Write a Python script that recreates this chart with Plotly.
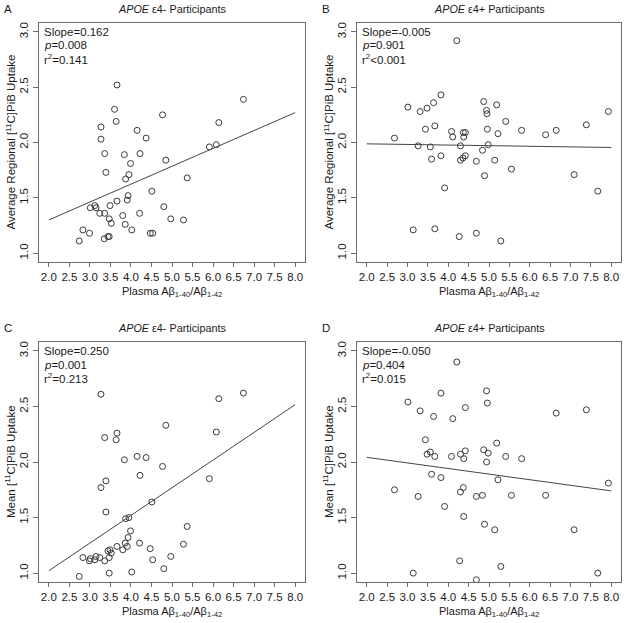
import plotly.graph_objects as go

W, H = 629, 623

# ---------------- data ----------------
x_ticks = [2.0, 2.5, 3.0, 3.5, 4.0, 4.5, 5.0, 5.5, 6.0, 6.5, 7.0, 7.5, 8.0]
x_tick_labels = ["2.0", "2.5", "3.0", "3.5", "4.0", "4.5", "5.0", "5.5", "6.0", "6.5", "7.0", "7.5", "8.0"]
y_ticks = [1.0, 1.5, 2.0, 2.5, 3.0]
y_tick_labels = ["1.0", "1.5", "2.0", "2.5", "3.0"]

# Panel A: APOE e4- , average regional PiB
a_x = [3.66, 3.60, 3.64, 3.27, 3.27, 3.36, 3.39, 4.15, 4.37, 3.84, 4.22, 3.99, 3.95, 3.87,
       4.77, 4.85, 5.37, 5.91, 6.08, 6.14, 6.74, 4.51, 3.93, 3.91, 3.66, 3.49, 3.12, 3.15,
       3.01, 3.24, 3.36, 4.21, 3.80, 3.47, 3.52, 3.86, 4.80, 4.97, 5.28, 2.83, 2.99, 2.74,
       4.02, 4.47, 4.53, 3.35, 3.44, 3.47]
a_y = [2.52, 2.30, 2.19, 2.14, 2.03, 1.90, 1.73, 2.11, 2.04, 1.89, 1.90, 1.81, 1.71, 1.67,
       2.25, 1.84, 1.68, 1.96, 1.98, 2.18, 2.39, 1.56, 1.52, 1.48, 1.47, 1.43, 1.43, 1.41,
       1.41, 1.36, 1.36, 1.36, 1.34, 1.31, 1.27, 1.26, 1.42, 1.31, 1.30, 1.21, 1.18, 1.11,
       1.21, 1.18, 1.18, 1.13, 1.15, 1.15]
a_fit_x = [2.0, 8.0]
a_fit_y = [1.30, 2.27]

# Panel B: APOE e4+ , average regional PiB
b_x = [4.21, 3.82, 3.01, 3.31, 3.48, 3.64, 3.44, 3.67, 2.68, 4.08, 4.11, 4.38, 4.37, 4.42,
       3.26, 3.56, 4.30, 3.59, 3.82, 4.42, 4.36, 4.30, 4.84, 4.69, 4.89, 4.87, 4.94, 4.95,
       4.96, 4.98, 5.19, 5.41, 5.22, 5.14, 5.55, 5.80, 6.39, 6.65, 7.39, 7.09, 7.67, 7.93,
       3.91, 3.14, 3.67, 4.27, 4.69, 5.29]
b_y = [2.92, 2.43, 2.32, 2.28, 2.31, 2.36, 2.12, 2.15, 2.04, 2.10, 2.05, 2.05, 2.09, 2.09,
       1.97, 1.96, 1.97, 1.85, 1.88, 1.88, 1.86, 1.84, 1.93, 1.83, 1.70, 2.37, 2.29, 2.26,
       2.12, 1.98, 2.34, 2.19, 2.08, 1.84, 1.76, 2.11, 2.07, 2.11, 2.16, 1.71, 1.56, 2.28,
       1.59, 1.21, 1.22, 1.15, 1.18, 1.11]
b_fit_x = [2.0, 8.0]
b_fit_y = [1.988, 1.955]

# Panel C: APOE e4- , mean PiB
c_x = [3.27, 3.36, 3.66, 3.64, 3.27, 3.39, 3.39, 3.84, 4.15, 4.37, 4.22, 4.77, 4.85, 4.51,
       5.91, 6.08, 6.14, 6.74, 5.37, 5.28, 3.87, 3.95, 3.99, 3.93, 3.86, 3.91, 3.66, 3.80,
       4.21, 4.47, 4.53, 4.97, 4.80, 4.02, 3.47, 2.74, 2.83, 3.01, 2.99, 3.15, 3.12, 3.24,
       3.36, 3.44, 3.49, 3.52, 3.47]
c_y = [2.61, 2.22, 2.26, 2.20, 1.77, 1.83, 1.55, 2.02, 2.05, 2.04, 1.88, 1.96, 2.33, 1.64,
       1.85, 2.27, 2.57, 2.62, 1.42, 1.26, 1.49, 1.50, 1.38, 1.32, 1.27, 1.24, 1.24, 1.21,
       1.27, 1.22, 1.12, 1.15, 1.04, 1.01, 1.00, 0.97, 1.14, 1.13, 1.11, 1.15, 1.12, 1.14,
       1.11, 1.20, 1.21, 1.18, 1.14]
c_fit_x = [2.0, 8.0]
c_fit_y = [1.021, 2.516]

# Panel D: APOE e4+ , mean PiB
d_x = [4.21, 3.82, 4.94, 3.01, 4.96, 3.31, 4.42, 3.64, 4.11, 6.65, 7.39, 3.44, 5.19, 3.56,
       3.48, 3.67, 4.08, 4.30, 4.42, 4.38, 4.87, 4.98, 4.94, 5.41, 5.80, 3.59, 3.82, 5.22,
       7.93, 2.68, 3.26, 4.30, 4.37, 4.69, 4.84, 5.55, 6.39, 3.91, 4.38, 4.89, 5.14, 7.09,
       4.28, 5.29, 3.14, 7.67, 4.69]
d_y = [2.90, 2.62, 2.64, 2.54, 2.53, 2.46, 2.49, 2.41, 2.39, 2.44, 2.47, 2.20, 2.17, 2.09,
       2.07, 2.05, 2.05, 2.07, 2.10, 2.03, 2.11, 2.08, 2.00, 2.05, 2.03, 1.89, 1.86, 1.84,
       1.81, 1.75, 1.69, 1.73, 1.77, 1.69, 1.70, 1.70, 1.70, 1.60, 1.51, 1.44, 1.39, 1.39,
       1.11, 1.06, 1.00, 1.00, 0.94]
d_fit_x = [2.0, 8.0]
d_fit_y = [2.042, 1.740]

letters = ["A", "B", "C", "D"]
titles = ["<i>APOE</i> ε4- Participants", "<i>APOE</i> ε4+ Participants",
          "<i>APOE</i> ε4- Participants", "<i>APOE</i> ε4+ Participants"]
y_titles = ["Average Regional [<sup>11</sup>C]PiB Uptake", "Average Regional [<sup>11</sup>C]PiB Uptake",
            "Mean [<sup>11</sup>C]PiB Uptake", "Mean [<sup>11</sup>C]PiB Uptake"]
x_title = "Plasma Aβ<sub>1-40</sub>/Aβ<sub>1-42</sub>"
stats = [["Slope=0.162", "<i>p</i>=0.008", "r<sup>2</sup>=0.141"],
         ["Slope=-0.005", "<i>p</i>=0.901", "r<sup>2</sup><0.001"],
         ["Slope=0.250", "<i>p</i>=0.001", "r<sup>2</sup>=0.213"],
         ["Slope=-0.050", "<i>p</i>=0.404", "r<sup>2</sup>=0.015"]]

series = [(a_x, a_y, a_fit_x, a_fit_y), (b_x, b_y, b_fit_x, b_fit_y),
          (c_x, c_y, c_fit_x, c_fit_y), (d_x, d_y, d_fit_x, d_fit_y)]

# ---------------- layout (pixel boxes) ----------------
boxes = [(39, 305, 23, 262), (357, 621, 23, 262), (39, 305, 342, 582), (357, 621, 342, 582)]
ytitle_px = [10, 328, 10, 328]

FONT = "Liberation Sans, Arial, Helvetica, sans-serif"
TXT = "#1a1a1a"
AX = "#6a6a6a"
PT = "#3a3a3a"
FS = 11.5


def px(x, y):
    return x / W, 1 - y / H


fig = go.Figure()
annotations = []
layout_axes = {}

for i, ((xs, ys, fx, fy), box) in enumerate(zip(series, boxes)):
    n = "" if i == 0 else str(i + 1)
    xref, yref = "x" + n, "y" + n
    fig.add_trace(go.Scatter(x=xs, y=ys, mode="markers", xaxis=xref, yaxis=yref,
                             marker=dict(symbol="circle-open", size=6, color=PT,
                                         line=dict(width=1, color=PT)),
                             showlegend=False, hoverinfo="x+y"))
    fig.add_trace(go.Scatter(x=fx, y=fy, mode="lines", xaxis=xref, yaxis=yref,
                             line=dict(color="#444444", width=1), showlegend=False,
                             hoverinfo="skip"))
    x0, x1, y0, y1 = box
    common = dict(showline=True, mirror=True, linecolor=AX, linewidth=1, showgrid=False,
                  zeroline=False, ticks="outside", tickcolor=AX, tickwidth=1,
                  ticklabeloverflow="allow", automargin=False,
                  tickfont=dict(family=FONT, size=FS, color=TXT))
    layout_axes["xaxis" + n] = dict(common, domain=[x0 / W, x1 / W], anchor=yref, ticklen=4,
                                    range=[1.76, 8.24], tickvals=x_ticks, ticktext=x_tick_labels)
    layout_axes["yaxis" + n] = dict(common, domain=[1 - y1 / H, 1 - y0 / H], anchor=xref, ticklen=5,
                                    range=[0.92, 3.08], tickvals=y_ticks, ticktext=y_tick_labels,
                                    tickangle=-90)
    cx = (x0 + x1) / 2
    cy = (y0 + y1) / 2
    # panel letter
    ax_, ay_ = px(x0 - 31, y0 - 14)
    annotations.append(dict(text=letters[i], x=ax_, y=ay_, xref="paper", yref="paper",
                            xanchor="center", yanchor="middle", showarrow=False,
                            font=dict(family=FONT, size=FS, color=TXT)))
    # title
    tx, ty = px(cx, y0 - 14)
    annotations.append(dict(text=titles[i], x=tx, y=ty, xref="paper", yref="paper",
                            xanchor="center", yanchor="middle", showarrow=False,
                            font=dict(family=FONT, size=10.8, color=TXT)))
    # x title
    xx, xy = px(cx, y1 + 30)
    annotations.append(dict(text=x_title, x=xx, y=xy, xref="paper", yref="paper",
                            xanchor="center", yanchor="middle", showarrow=False,
                            font=dict(family=FONT, size=11, color=TXT)))
    # y title
    yx, yy = px(ytitle_px[i], cy)
    annotations.append(dict(text=y_titles[i], x=yx, y=yy, xref="paper", yref="paper",
                            xanchor="center", yanchor="middle", showarrow=False, textangle=-90,
                            font=dict(family=FONT, size=FS, color=TXT)))
    # stats
    for k, s in enumerate(stats[i]):
        sx, sy = px(x0 + 3, y0 + 9 + 13.5 * k)
        annotations.append(dict(text=s, x=sx, y=sy, xref="paper", yref="paper",
                                xanchor="left", yanchor="middle", showarrow=False,
                                font=dict(family=FONT, size=FS, color=TXT)))

fig.update_layout(width=W, height=H, autosize=False,
                  margin=dict(l=0, r=0, t=0, b=0, autoexpand=False),
                  paper_bgcolor="white", plot_bgcolor="white",
                  font=dict(family=FONT, color=TXT),
                  annotations=annotations, **layout_axes)

fig.write_html("out.html", config={"displayModeBar": False},
               post_script="document.body.style.margin='0';document.body.style.overflow='hidden';")
